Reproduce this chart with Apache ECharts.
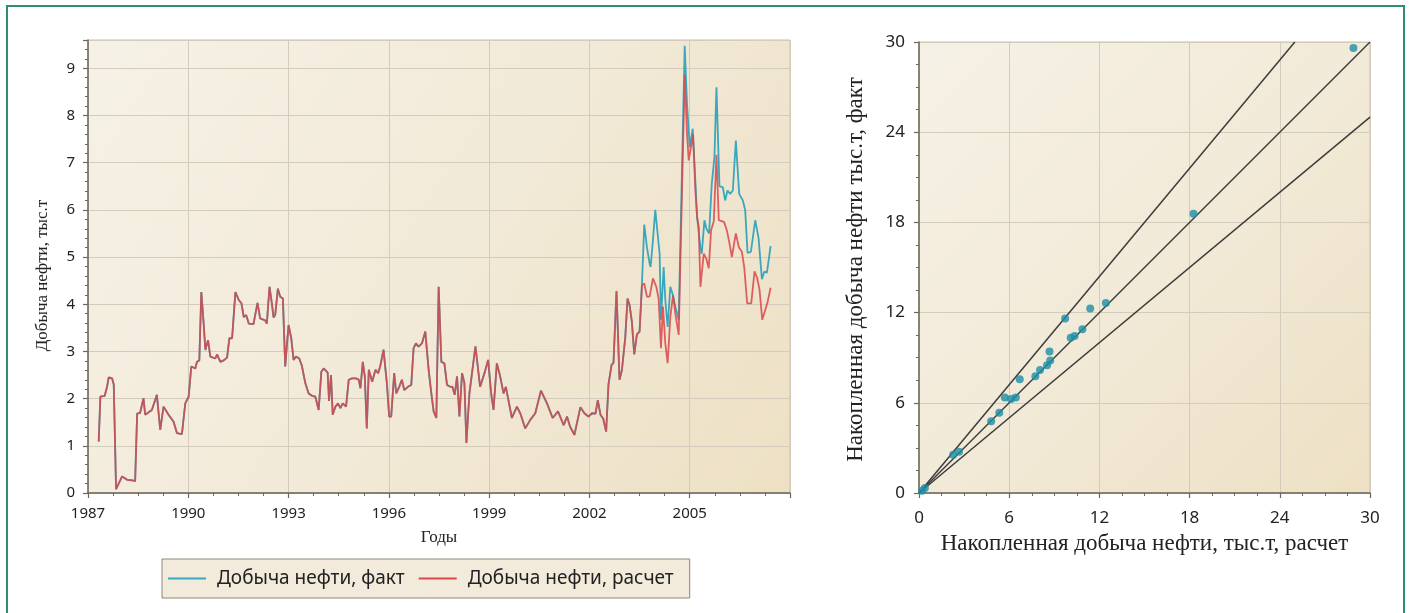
<!DOCTYPE html>
<html>
<head>
<meta charset="utf-8">
<script src="https://cdn.jsdelivr.net/npm/echarts@6/dist/echarts.min.js"></script>
<style>
html,body{margin:0;padding:0;background:#fff;}
#chart{width:1410px;height:613px;}
</style>
</head>
<body>
<div id="chart"></div>
<script>
// ---- Left chart: monthly oil production (thousand t) ----
// Part where fact and calculation coincide
var commonPart = [
[1987.32,1.09],[1987.37,2.04],[1987.5,2.06],[1987.57,2.25],[1987.62,2.45],[1987.72,2.43],[1987.77,2.3],
[1987.84,0.08],[1988.02,0.35],[1988.17,0.28],[1988.32,0.27],[1988.41,0.25],[1988.47,1.68],[1988.56,1.7],
[1988.66,2.01],[1988.71,1.66],[1988.91,1.76],[1989.06,2.08],[1989.16,1.34],[1989.26,1.83],[1989.41,1.66],
[1989.56,1.51],[1989.66,1.27],[1989.81,1.25],[1989.91,1.9],[1990.01,2.04],[1990.09,2.68],[1990.21,2.64],
[1990.26,2.78],[1990.33,2.81],[1990.39,4.26],[1990.46,3.59],[1990.51,3.03],[1990.59,3.24],[1990.66,2.89],
[1990.81,2.85],[1990.86,2.94],[1990.96,2.78],[1991.06,2.81],[1991.16,2.87],[1991.23,3.28],[1991.31,3.28],
[1991.41,4.26],[1991.51,4.09],[1991.59,4.02],[1991.66,3.73],[1991.73,3.77],[1991.81,3.59],[1991.95,3.58],
[1992.0,3.6],[1992.07,4.03],[1992.15,3.7],[1992.2,3.68],[1992.3,3.66],[1992.35,3.59],[1992.43,4.37],
[1992.5,4.02],[1992.55,3.72],[1992.6,3.77],[1992.68,4.33],[1992.75,4.16],[1992.83,4.12],[1992.9,2.68],
[1992.95,3.14],[1993.0,3.56],[1993.08,3.28],[1993.15,2.82],[1993.22,2.89],[1993.32,2.85],[1993.4,2.69],
[1993.5,2.33],[1993.6,2.11],[1993.7,2.06],[1993.8,2.04],[1993.9,1.76],[1993.98,2.57],[1994.05,2.64],
[1994.1,2.65],[1994.17,2.55],[1994.21,1.95],[1994.27,2.5],[1994.32,1.66],[1994.4,1.83],[1994.48,1.9],
[1994.55,1.8],[1994.62,1.9],[1994.72,1.83],[1994.8,2.4],[1994.9,2.43],[1995.02,2.43],[1995.1,2.4],
[1995.15,2.22],[1995.22,2.78],[1995.28,2.47],[1995.34,1.37],[1995.4,2.61],[1995.5,2.36],[1995.6,2.61],
[1995.68,2.54],[1995.74,2.68],[1995.84,3.04],[1995.94,2.33],[1996.01,1.62],[1996.07,1.62],[1996.16,2.54],
[1996.22,2.11],[1996.31,2.25],[1996.39,2.4],[1996.46,2.18],[1996.57,2.25],[1996.67,2.29],[1996.74,3.07],
[1996.81,3.17],[1996.89,3.1],[1996.99,3.17],[1997.09,3.42],[1997.19,2.61],[1997.27,2.11],[1997.34,1.73],
[1997.42,1.59],[1997.49,4.37],[1997.57,2.78],[1997.66,2.75],[1997.74,2.29],[1997.84,2.25],[1997.9,2.25],
[1997.97,2.08],[1998.04,2.47],[1998.11,1.62],[1998.19,2.54],[1998.26,2.33],[1998.32,1.06],[1998.41,2.11],
[1998.59,3.11],[1998.73,2.25],[1998.86,2.54],[1998.97,2.82],[1999.06,2.11],[1999.13,1.76],[1999.23,2.75],
[1999.33,2.47],[1999.43,2.11],[1999.5,2.25],[1999.68,1.59],[1999.83,1.83],[1999.93,1.69],[2000.08,1.37],
[2000.23,1.55],[2000.38,1.69],[2000.55,2.17],[2000.73,1.9],[2000.9,1.59],[2001.06,1.73],[2001.23,1.44],
[2001.33,1.62],[2001.42,1.41],[2001.55,1.23],[2001.73,1.82],[2001.85,1.69],[2001.97,1.62],[2002.08,1.69],
[2002.18,1.68],[2002.25,1.97],[2002.33,1.66],[2002.41,1.58],[2002.5,1.3],[2002.57,2.3],[2002.66,2.71],
[2002.72,2.76],[2002.81,4.28],[2002.9,2.4],[2002.97,2.6],[2003.07,3.28],[2003.14,4.12],[2003.2,3.98],
[2003.27,3.63],[2003.34,2.94],[2003.42,3.36],[2003.5,3.42],[2003.57,4.4]
];
// Calculated values after divergence
var calcTail = [
[2003.64,4.44],[2003.72,4.16],[2003.8,4.16],[2003.9,4.55],[2004.0,4.37],[2004.07,4.12],[2004.14,3.07],
[2004.2,3.95],[2004.27,3.17],[2004.34,2.75],[2004.42,3.73],[2004.5,4.19],[2004.57,3.8],[2004.67,3.35],
[2004.85,8.85],[2004.92,7.6],[2004.97,7.05],[2005.05,7.38],[2005.1,7.6],[2005.17,6.4],[2005.22,5.85],
[2005.27,5.64],[2005.32,4.37],[2005.42,5.07],[2005.5,4.96],[2005.57,4.76],[2005.64,5.57],[2005.72,5.76],
[2005.8,7.17],[2005.87,5.78],[2005.96,5.76],[2006.03,5.74],[2006.11,5.57],[2006.19,5.29],[2006.26,5.0],
[2006.38,5.5],[2006.47,5.21],[2006.56,5.11],[2006.63,4.79],[2006.72,4.02],[2006.84,4.02],[2006.94,4.7],
[2007.02,4.55],[2007.09,4.3],[2007.17,3.67],[2007.26,3.88],[2007.33,4.05],[2007.42,4.35]
];
// Actual values after divergence
var factTail = [
[2003.64,5.69],[2003.72,5.21],[2003.8,4.86],[2003.83,4.79],[2003.9,5.36],[2003.97,6.0],[2004.04,5.5],
[2004.1,5.07],[2004.14,3.67],[2004.22,4.79],[2004.27,4.09],[2004.34,3.52],[2004.42,4.37],[2004.5,4.19],
[2004.57,3.95],[2004.67,3.67],[2004.85,9.48],[2004.92,8.24],[2005.0,7.33],[2005.09,7.72],[2005.17,6.6],
[2005.22,5.85],[2005.32,5.2],[2005.36,5.07],[2005.44,5.78],[2005.5,5.6],[2005.58,5.5],[2005.66,6.55],
[2005.74,7.12],[2005.8,8.6],[2005.89,6.5],[2005.99,6.48],[2006.06,6.2],[2006.13,6.41],[2006.21,6.34],
[2006.29,6.41],[2006.38,7.47],[2006.48,6.34],[2006.59,6.2],[2006.66,5.99],[2006.73,5.09],[2006.83,5.11],
[2006.96,5.78],[2007.06,5.4],[2007.16,4.53],[2007.23,4.69],[2007.31,4.67],[2007.42,5.23]
];
var leftXTicks = {min:1987, max:2008, step:3};
var leftYTicks = {min:0, max:9.6, step:1};

// ---- Right chart: cumulative production, calc (x) vs fact (y) ----
var scatterCalc = [0.2,0.39,2.27,2.66,4.8,5.34,5.71,6.12,6.44,6.7,7.74,8.05,8.52,8.73,8.68,9.72,10.09,10.35,10.87,11.39,12.43,18.26,28.9];
var scatterFact = [0.15,0.34,2.55,2.74,4.77,5.34,6.36,6.26,6.36,7.56,7.77,8.18,8.5,8.81,9.41,11.6,10.32,10.45,10.89,12.27,12.64,18.58,29.6];
var lineUpper = [[0,0],[25,30]];
var lineMiddle = [[0,0],[30,30]];
var lineLower = [[0,0],[30,25]];
var rightTicks = {min:0, max:30, step:6};

var factSeries = commonPart.concat(factTail);
var calcSeries = commonPart.concat(calcTail);
var scatterData = scatterCalc.map(function(x,i){return [x, scatterFact[i]];});

var bgGrad = {type:'linear', x:0, y:0, x2:1, y2:1, colorStops:[
  {offset:0, color:'#f6f1e6'},{offset:0.5, color:'#f2ead8'},{offset:1, color:'#ede0c4'}]};
var sans = '"Noto Sans", "DejaVu Sans", sans-serif';
var serif = '"Liberation Serif", "Times New Roman", serif';
var axisDark = '#6d675a';
var gridLight = '#d3cbbb';
function plain(v){ return String(v); }

function valueAxis(gridIndex, t, opts) {
  var a = {
    type:'value', gridIndex:gridIndex, min:t.min, max:t.max, interval:t.step,
    axisLine:{show:true, onZero:false, lineStyle:{color:axisDark, width:1.5}},
    axisTick:{show:true, length:5, lineStyle:{color:axisDark, width:1.2}},
    minorTick:{show:true, splitNumber:4, length:3, lineStyle:{color:axisDark, width:1}},
    splitLine:{show:true, lineStyle:{color:gridLight, width:1}},
    axisLabel:{color:'#222', fontFamily:sans, fontSize:15, margin:8, formatter:plain},
    nameTextStyle:{color:'#222', fontFamily:serif, fontSize:17}
  };
  for (var k in opts) a[k] = opts[k];
  return a;
}

var chart = echarts.init(document.getElementById('chart'), null, {renderer:'canvas'});
chart.setOption({
  backgroundColor:'#ffffff',
  animation:false,
  graphic:[{type:'rect', z:100, silent:true, shape:{x:7, y:6, width:1397, height:660},
            style:{fill:'none', stroke:'#2e8f6e', lineWidth:2}}],
  grid:[
    {left:88, top:40, width:702, height:453, show:true, backgroundColor:bgGrad, borderColor:'#c9c1b0', borderWidth:1},
    {left:919, top:42, width:451, height:451, show:true, backgroundColor:bgGrad, borderColor:'#c9c1b0', borderWidth:1}
  ],
  xAxis:[
    valueAxis(0, leftXTicks, {name:'Годы', nameLocation:'middle', nameGap:36,
      axisLabel:{color:'#222', fontFamily:sans, fontSize:15, margin:13, showMaxLabel:false, formatter:plain}}),
    valueAxis(1, rightTicks, {name:'Накопленная добыча нефти, тыс.т, расчет', nameLocation:'middle', nameGap:39,
      axisLabel:{color:'#222', fontFamily:sans, fontSize:17, margin:17, formatter:plain},
      nameTextStyle:{color:'#222', fontFamily:serif, fontSize:23}})
  ],
  yAxis:[
    valueAxis(0, leftYTicks, {name:'Добыча нефти, тыс.т', nameLocation:'middle', nameGap:37,
      minorTick:{show:true, splitNumber:5, length:3, lineStyle:{color:axisDark, width:1}},
      axisLabel:{color:'#222', fontFamily:sans, fontSize:15, margin:13, showMaxLabel:false, formatter:plain},
      nameTextStyle:{color:'#222', fontFamily:serif, fontSize:17, padding:[0,18,0,0]}}),
    valueAxis(1, rightTicks, {name:'Накопленная добыча нефти тыс.т, факт', nameLocation:'middle', nameGap:52,
      axisLabel:{color:'#222', fontFamily:sans, fontSize:17, margin:14, formatter:plain},
      nameTextStyle:{color:'#222', fontFamily:serif, fontSize:23, padding:[0,4,0,0]}})
  ],
  legend:{
    left:162, top:559, padding:[10,16,10,6], itemGap:14, itemWidth:38, itemHeight:2,
    backgroundColor:'#f2ebdb', borderColor:'#8d8676', borderWidth:1,
    textStyle:{fontFamily:sans, fontSize:19, color:'#222', padding:[0,0,0,6]},
    data:[{name:'Добыча нефти, факт', icon:'rect'},{name:'Добыча нефти, расчет', icon:'rect'}]
  },
  series:[
    {name:'Добыча нефти, факт', type:'line', xAxisIndex:0, yAxisIndex:0, data:factSeries,
     showSymbol:false, symbol:'none', lineStyle:{color:'#3aa7bd', width:1.8}, itemStyle:{color:'#3aa7bd'}, z:2},
    {name:'Добыча нефти, расчет', type:'line', xAxisIndex:0, yAxisIndex:0, data:calcSeries,
     showSymbol:false, symbol:'none', lineStyle:{color:'#d9474b', width:1.8, opacity:0.85}, itemStyle:{color:'#d9474b'}, z:3},
    {type:'line', xAxisIndex:1, yAxisIndex:1, data:lineUpper, symbol:'none', lineStyle:{color:'#3c3c3c', width:1.5}, z:2},
    {type:'line', xAxisIndex:1, yAxisIndex:1, data:lineMiddle, symbol:'none', lineStyle:{color:'#3c3c3c', width:1.5}, z:2},
    {type:'line', xAxisIndex:1, yAxisIndex:1, data:lineLower, symbol:'none', lineStyle:{color:'#3c3c3c', width:1.5}, z:2},
    {type:'scatter', xAxisIndex:1, yAxisIndex:1, data:scatterData, symbol:'circle', symbolSize:8,
     itemStyle:{color:'#1b8fa6'}, z:4}
  ]
});
</script>
</body>
</html>
